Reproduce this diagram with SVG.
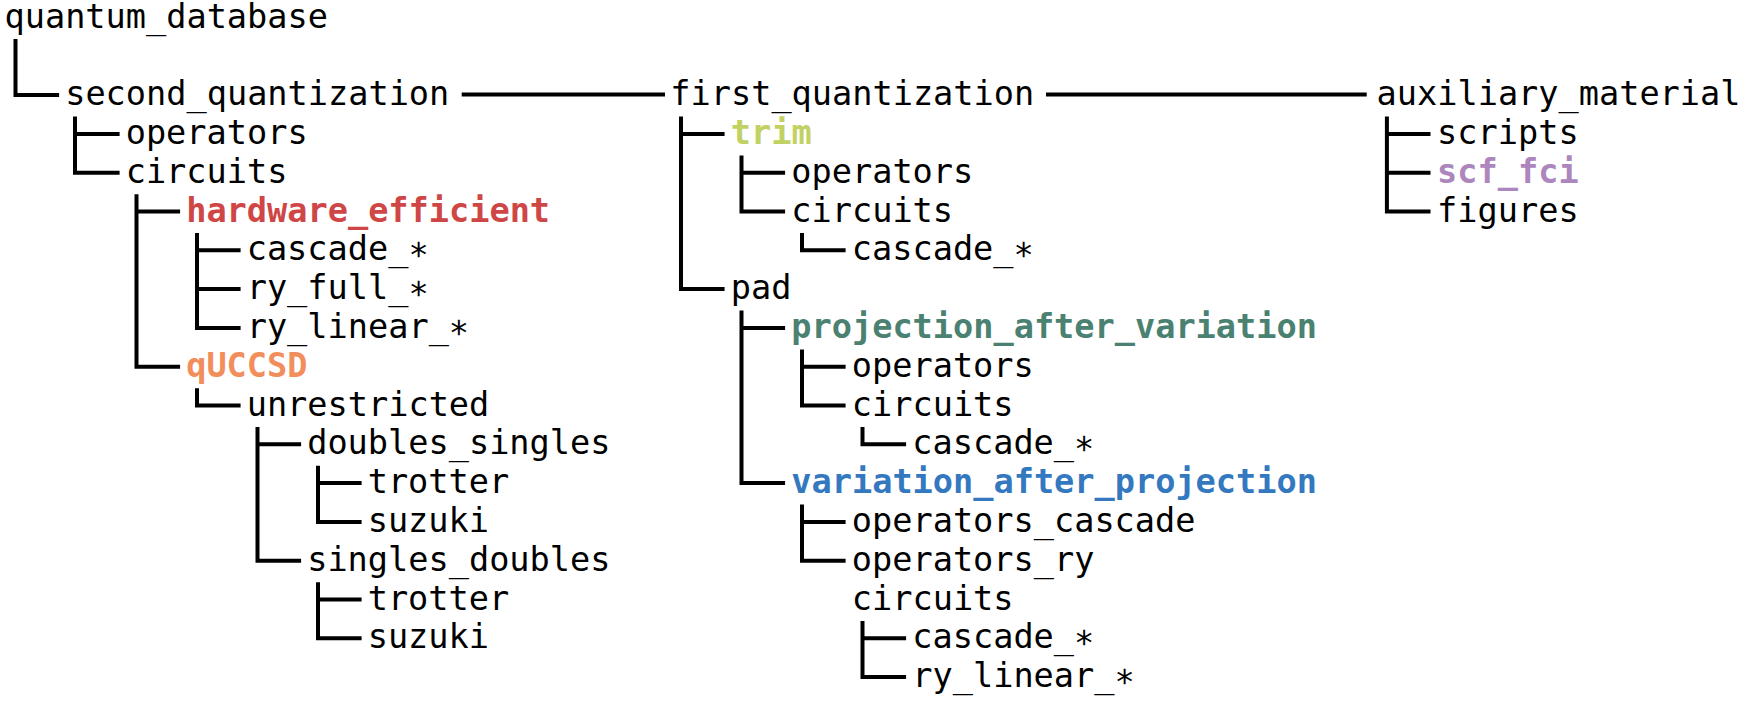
<svg xmlns="http://www.w3.org/2000/svg" width="1754" height="708" viewBox="0 0 1754 708">
<style>
text{font-family:"DejaVu Sans Mono","Liberation Mono",monospace;font-size:33.6px;fill:#000}
.b{font-weight:bold}
.red{fill:#cf4646}.org{fill:#f28e5c}.yg{fill:#c2d163}.grn{fill:#4b8171}.blu{fill:#3479bf}.pur{fill:#ac86bd}
#connectors path{fill:none;stroke:#000;stroke-width:4;stroke-linecap:butt;stroke-linejoin:miter}
</style>
<rect width="1754" height="708" fill="#fff"/>
<g id="connectors">
<path d="M15.5 39V95.1H59.1"/>
<path d="M75 116.6V172.7H119.6M75 133.9H119.6"/>
<path d="M136.5 194.2V366.7H180.1M136.5 211.5H180.1"/>
<path d="M197 233V327.9H240.6M197 250.3H240.6M197 289.1H240.6"/>
<path d="M197 388.2V405.5H240.6"/>
<path d="M257.5 427V560.7H301.1M257.5 444.3H301.1"/>
<path d="M318 465.8V521.9H361.6M318 483.1H361.6"/>
<path d="M318 582.2V638.3H361.6M318 599.5H361.6"/>
<path d="M681 116.6V289.1H724.6M681 133.9H724.6"/>
<path d="M741.5 155.4V211.5H785.1M741.5 172.7H785.1"/>
<path d="M802 233V250.3H845.6"/>
<path d="M741.5 310.6V483.1H785.1M741.5 327.9H785.1"/>
<path d="M802 349.4V405.5H845.6M802 366.7H845.6"/>
<path d="M862.5 427V444.3H906.1"/>
<path d="M802 504.6V560.7H845.6M802 521.9H845.6"/>
<path d="M862.5 621V677.1H906.1M862.5 638.3H906.1"/>
<path d="M1386.9 116.6V211.5H1430.5M1386.9 133.9H1430.5M1386.9 172.7H1430.5"/>
<path d="M461.7 94.5H665M1046 94.5H1366.7"/>
</g>
<g id="n-quantum_database"><text x="4.5" y="27.6">quantum_database</text></g>
<g id="n-second_quantization"><text x="65.2" y="105.2">second_quantization</text></g>
<g id="n-sq-operators"><text x="125.7" y="144">operators</text></g>
<g id="n-sq-circuits"><text x="125.7" y="182.8">circuits</text></g>
<g id="n-hardware_efficient"><text class="b red" x="186.2" y="221.6">hardware_efficient</text></g>
<g id="n-he-cascade"><text x="246.7" y="260.4">cascade_∗</text></g>
<g id="n-he-ry_full"><text x="246.7" y="299.2">ry_full_∗</text></g>
<g id="n-he-ry_linear"><text x="246.7" y="338">ry_linear_∗</text></g>
<g id="n-qUCCSD"><text class="b org" x="186.2" y="376.8">qUCCSD</text></g>
<g id="n-unrestricted"><text x="246.7" y="415.6">unrestricted</text></g>
<g id="n-doubles_singles"><text x="307.2" y="454.4">doubles_singles</text></g>
<g id="n-ds-trotter"><text x="367.7" y="493.2">trotter</text></g>
<g id="n-ds-suzuki"><text x="367.7" y="532">suzuki</text></g>
<g id="n-singles_doubles"><text x="307.2" y="570.8">singles_doubles</text></g>
<g id="n-sd-trotter"><text x="367.7" y="609.6">trotter</text></g>
<g id="n-sd-suzuki"><text x="367.7" y="648.4">suzuki</text></g>
<g id="n-first_quantization"><text x="670.3" y="105.2">first_quantization</text></g>
<g id="n-trim"><text class="b yg" x="730.8" y="144">trim</text></g>
<g id="n-trim-operators"><text x="791.3" y="182.8">operators</text></g>
<g id="n-trim-circuits"><text x="791.3" y="221.6">circuits</text></g>
<g id="n-trim-cascade"><text x="851.8" y="260.4">cascade_∗</text></g>
<g id="n-pad"><text x="730.8" y="299.2">pad</text></g>
<g id="n-projection_after_variation"><text class="b grn" x="791.3" y="338">projection_after_variation</text></g>
<g id="n-pav-operators"><text x="851.8" y="376.8">operators</text></g>
<g id="n-pav-circuits"><text x="851.8" y="415.6">circuits</text></g>
<g id="n-pav-cascade"><text x="912.3" y="454.4">cascade_∗</text></g>
<g id="n-variation_after_projection"><text class="b blu" x="791.3" y="493.2">variation_after_projection</text></g>
<g id="n-vap-operators_cascade"><text x="851.8" y="532">operators_cascade</text></g>
<g id="n-vap-operators_ry"><text x="851.8" y="570.8">operators_ry</text></g>
<g id="n-vap-circuits"><text x="851.8" y="609.6">circuits</text></g>
<g id="n-vap-cascade"><text x="912.3" y="648.4">cascade_∗</text></g>
<g id="n-vap-ry_linear"><text x="912.3" y="687.2">ry_linear_∗</text></g>
<g id="n-auxiliary_material"><text x="1376.6" y="105.2">auxiliary_material</text></g>
<g id="n-scripts"><text x="1437.1" y="144">scripts</text></g>
<g id="n-scf_fci"><text class="b pur" x="1437.1" y="182.8">scf_fci</text></g>
<g id="n-figures"><text x="1437.1" y="221.6">figures</text></g>
</svg>
